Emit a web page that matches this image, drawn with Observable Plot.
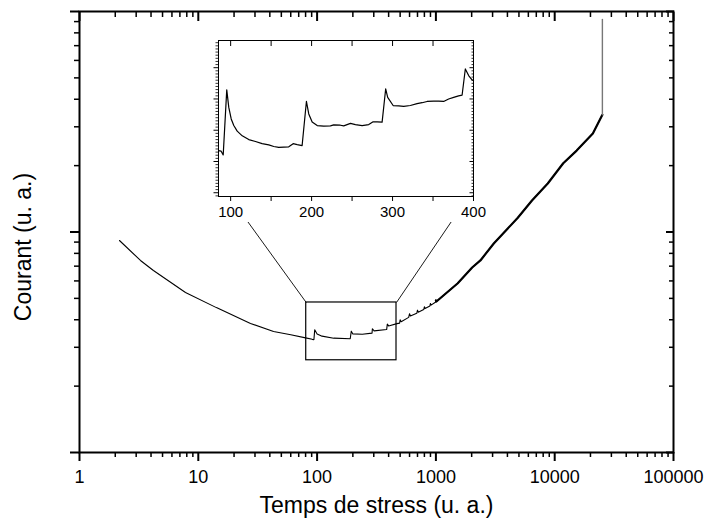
<!DOCTYPE html>
<html><head><meta charset="utf-8">
<script src="https://cdn.jsdelivr.net/npm/d3@7"></script>
<script src="https://cdn.jsdelivr.net/npm/@observablehq/plot@0.6"></script>
<style>
body{margin:0;background:#fff;}
#wrap{position:relative;width:709px;height:527px;font-family:"Liberation Sans",Arial,sans-serif;}
#inset{position:absolute;}
svg{overflow:visible;}
</style></head><body><div id="wrap"><div id="main"></div><div id="inset"></div></div>
<script>
// ---- main curve (stress time vs current, arbitrary units) ----
const mainTime = [2.17, 3.26, 4.19, 7.8, 14.2, 27.5, 43, 60, 80, 91, 94, 95.5, 100, 110, 138, 190, 194, 200, 240, 290, 292, 302, 385, 390, 400, 470, 495, 500, 510, 590, 600, 610, 690, 700, 710, 790, 800, 810, 890, 900, 910, 990, 1000, 1010, 1520, 2020, 2370, 3070, 4890, 6440, 8740, 11800, 15300, 20950, 25200];
const mainCurrent = [9.15, 7.43, 6.69, 5.32, 4.54, 3.85, 3.54, 3.42, 3.31, 3.26, 3.25, 3.60, 3.45, 3.37, 3.30, 3.28, 3.55, 3.45, 3.44, 3.48, 3.64, 3.56, 3.61, 3.82, 3.75, 3.84, 3.86, 4.00, 3.92, 4.10, 4.26, 4.16, 4.28, 4.42, 4.33, 4.45, 4.58, 4.50, 4.62, 4.74, 4.66, 4.80, 4.90, 4.84, 5.84, 6.90, 7.43, 8.87, 11.6, 13.9, 16.6, 20.5, 23.4, 28.0, 34.0];
const breakdownTime = [25200, 25200];
const breakdownCurrent = [34, 92];
// zoom box and connectors (data units of main chart)
const zoomTime = [81, 466];
const zoomCurrent = [2.62, 4.79];
const connLeftTime = [81, 18.3];
const connRightTime = [466, 1880];
const connCurrent = [4.79, 14.5];
// axes
const xMajor = [1, 10, 100, 1000, 10000, 100000];
const xLabels = ["1", "10", "100", "1000", "10000", "100000"];
const yMajor = [1, 10, 100];
// ---- inset (zoom on 85..400) ----
const insetTime = [85, 88.3, 90.8, 95.2, 97.7, 100.7, 103.9, 108.1, 114.3, 122.4, 130.7, 138.9, 147.1, 153.3, 159.4, 165.6, 171.8, 177.2, 182.2, 188.3, 193.6, 196.5, 200.7, 206.9, 215, 223.3, 227.3, 235.6, 239.7, 248, 254.1, 262.4, 270.6, 276, 280.9, 287.1, 291.5, 294, 300.7, 307.6, 313.8, 322, 330.3, 336.5, 342.7, 350.8, 357, 363.1, 369.3, 375.5, 381.6, 385.9, 389.9, 394, 398.2, 400];
const insetCurrent = [1.35, 1.33, 1.21, 3.29, 2.73, 2.36, 2.15, 1.97, 1.82, 1.70, 1.64, 1.57, 1.53, 1.48, 1.45, 1.46, 1.47, 1.57, 1.54, 1.51, 2.92, 2.52, 2.26, 2.15, 2.13, 2.14, 2.17, 2.16, 2.14, 2.22, 2.18, 2.15, 2.18, 2.27, 2.27, 2.26, 3.32, 3.05, 2.79, 2.78, 2.76, 2.79, 2.85, 2.88, 2.92, 2.93, 2.93, 2.92, 3.00, 3.05, 3.10, 3.12, 3.96, 3.75, 3.61, 3.59];
const insetXTicks = [100, 150, 200, 250, 300, 350, 400];
const insetXLabels = [100, 200, 300, 400];
const insetYMajor = [0, 1, 2, 3, 4];

const font = '"Liberation Sans", Arial, sans-serif';
const minorDecades = (lo, hi) => {
  const out = [];
  for (let d = lo; d < hi; d *= 10) for (let k = 2; k <= 9; k++) out.push(d * k);
  return out;
};
const xMinor = minorDecades(1, 100000);
const yMinor = minorDecades(1, 100);

const mainData = mainTime.map((t, i) => ({t, c: mainCurrent[i]}));
const bdData = breakdownTime.map((t, i) => ({t, c: breakdownCurrent[i]}));

const mL = 79, mR = 36, mT = 11, mB = 75;
const main = Plot.plot({
  width: 709, height: 527,
  marginLeft: mL, marginRight: mR, marginTop: mT, marginBottom: mB,
  style: {fontFamily: font, fontSize: "18px", color: "#000", background: "#fff", overflow: "visible"},
  x: {type: "log", domain: [1, 100000]},
  y: {type: "log", domain: [1, 100]},
  marks: [
    // bottom
    Plot.axisX(xMinor, {anchor: "bottom", tickSize: 5, strokeWidth: 1.5, tickFormat: () => "", label: null}),
    Plot.axisX(xMajor, {anchor: "bottom", tickSize: 9, tickPadding: 9, strokeWidth: 2, fontSize: 18,
      tickFormat: d => xLabels[xMajor.indexOf(d)], label: null}),
    // top (inward)
    Plot.axisX(xMinor, {anchor: "top", tickSize: -5, strokeWidth: 1.5, tickFormat: () => "", label: null}),
    Plot.axisX(xMajor, {anchor: "top", tickSize: -9, strokeWidth: 2, tickFormat: () => "", label: null}),
    // left (outward)
    Plot.axisY(yMinor, {anchor: "left", tickSize: 5, strokeWidth: 1.5, tickFormat: () => "", label: null}),
    Plot.axisY(yMajor, {anchor: "left", tickSize: 9, strokeWidth: 2, tickFormat: () => "", label: null}),
    // right (inward)
    Plot.axisY(yMinor, {anchor: "right", tickSize: -5, strokeWidth: 1.5, tickFormat: () => "", label: null}),
    Plot.axisY(yMajor, {anchor: "right", tickSize: -8, strokeWidth: 2, tickFormat: () => "", label: null}),
    Plot.frame({stroke: "#000", strokeWidth: 2}),
    // zoom box + connectors
    Plot.rect([{x1: zoomTime[0], x2: zoomTime[1], y1: zoomCurrent[0], y2: zoomCurrent[1]}],
      {x1: "x1", x2: "x2", y1: "y1", y2: "y2", fill: "none", stroke: "#000", strokeWidth: 1.2}),
    Plot.link([{x1: connLeftTime[0], x2: connLeftTime[1], y1: connCurrent[0], y2: connCurrent[1]},
               {x1: connRightTime[0], x2: connRightTime[1], y1: connCurrent[0], y2: connCurrent[1]}],
      {x1: "x1", x2: "x2", y1: "y1", y2: "y2", stroke: "#000", strokeWidth: 0.9}),
    // curve
    Plot.line(mainData, {x: "t", y: "c", stroke: "#000", strokeWidth: 1.1}),
    Plot.line(mainData.filter(d => d.t >= 1000), {x: "t", y: "c", stroke: "#000", strokeWidth: 2.2}),
    Plot.line(bdData, {x: "t", y: "c", stroke: "#777", strokeWidth: 1.4}),
    // titles
    Plot.text(["Temps de stress (u. a.)"], {text: d => d, frameAnchor: "bottom", textAnchor: "middle", lineAnchor: "bottom", dy: 60, fontSize: 23, fill: "#000"}),
    Plot.text(["Courant (u. a.)"], {text: d => d, frameAnchor: "left", textAnchor: "middle", lineAnchor: "middle", rotate: -90, dx: -56, dy: 15, fontSize: 23, fill: "#000"})
  ]
});
document.getElementById("main").appendChild(main);

// ---- inset ----
const iL = 12, iR = 16, iT = 4, iB = 26;
const insetData = insetTime.map((t, i) => ({t, c: insetCurrent[i]}));
const yInsetMinor = d3.range(-1, 49).map(k => k / 10).filter(v => !insetYMajor.includes(v) && v >= -0.12 && v <= 4.87);
const inset = Plot.plot({
  width: 255 + iL + iR, height: 156 + iT + iB,
  marginLeft: iL, marginRight: iR, marginTop: iT, marginBottom: iB,
  style: {fontFamily: font, fontSize: "15px", color: "#000", background: "#fff", overflow: "visible"},
  x: {domain: [85, 400]},
  y: {domain: [-0.12, 4.87]},
  marks: [
    Plot.axisX(insetXTicks, {anchor: "bottom", tickSize: 5, strokeWidth: 1, tickFormat: () => "", label: null}),
    Plot.axisX(insetXLabels, {anchor: "bottom", tickSize: 0, tickPadding: 10, fontSize: 15, tickFormat: d => String(d), label: null}),
    Plot.axisX(insetXTicks, {anchor: "top", tickSize: -5, strokeWidth: 1, tickFormat: () => "", label: null}),
    Plot.axisY(yInsetMinor, {anchor: "left", tickSize: 2.5, strokeWidth: 0.8, tickFormat: () => "", label: null}),
    Plot.axisY(insetYMajor, {anchor: "left", tickSize: 4.5, strokeWidth: 1, tickFormat: () => "", label: null}),
    Plot.axisY(yInsetMinor, {anchor: "right", tickSize: -2.5, strokeWidth: 0.8, tickFormat: () => "", label: null}),
    Plot.axisY(insetYMajor, {anchor: "right", tickSize: -4.5, strokeWidth: 1, tickFormat: () => "", label: null}),
    Plot.frame({stroke: "#000", strokeWidth: 1}),
    Plot.line(insetData, {x: "t", y: "c", stroke: "#000", strokeWidth: 1.2})
  ]
});
const insetDiv = document.getElementById("inset");
insetDiv.style.left = (218 - iL) + "px";
insetDiv.style.top = (40 - iT) + "px";
insetDiv.appendChild(inset);
</script></body></html>
